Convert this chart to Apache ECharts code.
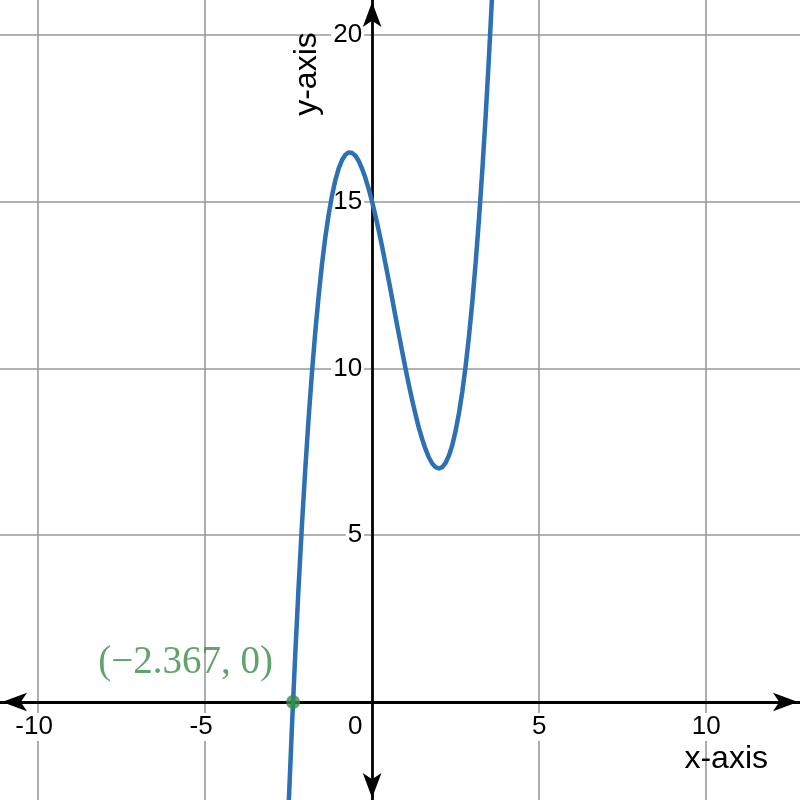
<!DOCTYPE html>
<html><head><meta charset="utf-8">
<script src="https://cdn.jsdelivr.net/npm/echarts@6/dist/echarts.min.js"></script>
<style>html,body{margin:0;padding:0;background:#fff}#c{width:800px;height:800px}</style>
</head><body><div id="c"></div>
<script>
// values
const curveX = [-2.5,-2.4,-2.3,-2.2,-2.1,-2.0,-1.9,-1.8,-1.7,-1.6,-1.5,-1.4,-1.3,-1.2,-1.1,-1.0,-0.9,-0.8,-0.7,-0.6,-0.5,-0.4,-0.3,-0.2,-0.1,0,
  0.1,0.2,0.3,0.4,0.5,0.6,0.7,0.8,0.9,1.0,1.1,1.2,1.3,1.4,1.5,1.6,1.7,1.8,1.9,2.0,2.1,2.2,2.3,2.4,2.5,2.6,2.7,2.8,2.9,3.0,3.1,3.2,3.3,3.4,3.5,3.6,3.7];
const curveY = [-3.13,-0.74,1.45,3.47,5.32,7.0,8.52,9.89,11.11,12.18,13.13,13.94,14.62,15.19,15.65,16.0,16.25,16.41,16.48,16.46,16.38,16.22,15.99,15.71,15.38,15.0,
  14.58,14.13,13.65,13.14,12.63,12.10,11.56,11.03,10.51,10.0,9.51,9.05,8.62,8.22,7.88,7.58,7.33,7.15,7.04,7.0,7.04,7.17,7.39,7.70,8.13,8.66,9.30,10.07,10.97,12.0,13.17,14.49,15.96,17.58,19.38,21.34,23.47];
const rootPoint = [-2.367, 0];
const rootLabel = '(\u22122.367, 0)';
const xGrid = [-10,-5,5,10];
const yGrid = [5,10,15,20];
const xLabels = [-10,-5,0,5,10];
const yLabels = [5,10,15,20];
const xRange = [-11.14, 12.81];
const yRange = [-2.94, 21.05];
const xName = 'x-axis';
const yName = 'y-axis';

const chart = echarts.init(document.getElementById('c'));
const font = '"Liberation Sans", Arial, sans-serif';
const axisLineStyle = {color:'#000', width:2.8};
const arrowLine = {onZero:false, lineStyle:axisLineStyle, symbol:['arrow','arrow'], symbolSize:[14,25], symbolOffset:[2,-2]};
chart.setOption({
  animation:false,
  grid:{left:0,right:0,top:0,bottom:0,outerBoundsMode:'none',containLabel:false},
  xAxis:{
    type:'value', min:xRange[0], max:xRange[1], position:'bottom', offset:0, z:1,
    axisLine:arrowLine,
    axisTick:{show:false, customValues:xGrid},
    splitLine:{show:true, lineStyle:{color:'#999', width:1.6}},
    axisLabel:{customValues:xLabels, margin:11, fontSize:26, fontFamily:font, color:'#000',
      backgroundColor:'#fff', padding:[1,2],
      formatter:v => v===0 ? '{z|0}' : (v<0 ? '{n|'+v+'}' : ''+v),
      rich:{z:{fontSize:26,fontFamily:font,color:'#000',padding:[0,34,0,0]}, n:{fontSize:26,fontFamily:font,color:'#000',padding:[0,8,0,0]}}},
    name:xName, nameLocation:'end', nameGap:-32, nameMoveOverlap:false,
    nameTextStyle:{fontSize:32, fontFamily:font, color:'#000', align:'right', verticalAlign:'top', padding:[41,0,0,0]}
  },
  yAxis:{
    type:'value', min:yRange[0], max:yRange[1], position:'left', offset:0, z:2,
    axisLine:arrowLine,
    axisTick:{show:false, customValues:yGrid},
    splitLine:{show:true, lineStyle:{color:'#999', width:1.6}},
    axisLabel:{customValues:yLabels, margin:8, fontSize:26, fontFamily:font, color:'#000',
      backgroundColor:'#fff', padding:[1,2]}
  },
  graphic:[{type:'text', x:307, y:74, rotation:Math.PI/2, z:10,
    style:{text:yName, font:'32px "Liberation Sans", Arial, sans-serif', fill:'#000', align:'center', verticalAlign:'middle'}}],
  series:[
    {type:'line', data:curveX.map((x,i)=>[x,curveY[i]]), smooth:false, showSymbol:false,
      lineStyle:{color:'#2d70b3', width:4.5, join:'round'}, z:3},
    {type:'scatter', data:[rootPoint], symbolSize:14, itemStyle:{color:'#388c46'}, z:4,
      label:{show:true, formatter:rootLabel, position:'left', distance:13, offset:[0,-39],
        fontFamily:'"Liberation Serif", "DejaVu Serif", serif', fontSize:39, color:'#388c46'}}
  ]
});
// move each axis to cross the other at zero
const px0 = chart.convertToPixel({xAxisIndex:0}, 0);
const py0 = chart.convertToPixel({yAxisIndex:0}, 0);
chart.setOption({xAxis:{offset: py0 - chart.getHeight()}, yAxis:{offset: -px0}});
</script></body></html>
